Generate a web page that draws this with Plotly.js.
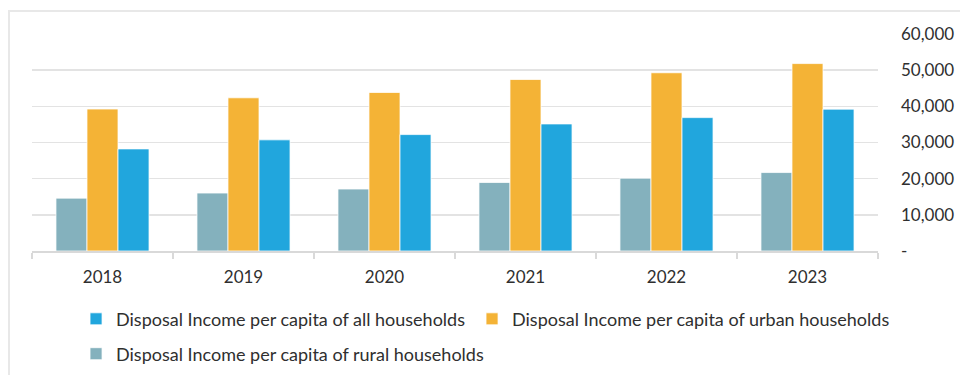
<!DOCTYPE html>
<html><head><meta charset="utf-8">
<script src="https://cdn.plot.ly/plotly-3.0.1.min.js"></script>
<style>
html,body{margin:0;padding:0;background:#fff;overflow:hidden}
#frame{position:absolute;left:8px;top:10px;width:1000px;height:420px;border:2px solid #e8e8e8;box-sizing:border-box}
#chart{position:absolute;left:0;top:0;width:960px;height:375px}
</style></head>
<body>
<div id="frame"></div>
<div id="chart"></div>
<script>
const years = ['2018','2019','2020','2021','2022','2023'];
const allHouseholds = [28228, 30733, 32189, 35128, 36883, 39218];
const urbanHouseholds = [39251, 42359, 43834, 47412, 49283, 51821];
const ruralHouseholds = [14617, 16021, 17131, 18931, 20133, 21691];
const yTickVals = [0, 10000, 20000, 30000, 40000, 50000, 60000];
const yTickText = ['-', '10,000', '20,000', '30,000', '40,000', '50,000', '60,000'];

const FONT = 'Lato, "Open Sans", sans-serif';
const TXT = '#2f2f2f';
const traces = [
  {type:'bar', x: years, y: ruralHouseholds, name:'Disposal Income per capita of rural households',
   marker:{color:'#84B1BD', line:{color:'#ffffff', width:0.75}}, legend:'legend3', hoverinfo:'y'},
  {type:'bar', x: years, y: urbanHouseholds, name:'Disposal Income per capita of urban households',
   marker:{color:'#F4B336', line:{color:'#ffffff', width:0.75}}, legend:'legend2', hoverinfo:'y'},
  {type:'bar', x: years, y: allHouseholds, name:'Disposal Income per capita of all households',
   marker:{color:'#21A6DD', line:{color:'#ffffff', width:0.75}}, legend:'legend', hoverinfo:'y'}
];

function leg(x, y){
  return {orientation:'h', xref:'container', yref:'container', x:x, xanchor:'left', y:y, yanchor:'middle',
          font:{family:FONT, size:18, color:TXT}, itemclick:false, itemdoubleclick:false,
          bgcolor:'rgba(0,0,0,0)', borderwidth:0};
}

const layout = {
  width:960, height:375,
  margin:{l:32, r:82, t:34, b:124, autoexpand:false},
  paper_bgcolor:'rgba(0,0,0,0)', plot_bgcolor:'rgba(0,0,0,0)',
  font:{family:FONT, size:17, color:TXT},
  barmode:'group', bargap:0.34, bargroupgap:0,
  xaxis:{type:'category', showgrid:false, showline:true, linecolor:'#d9d9d9', linewidth:1.5,
         ticks:'outside', tickson:'boundaries', ticklen:6, tickcolor:'#d9d9d9', tickwidth:1.5,
         ticklabelstandoff:10,
         tickfont:{family:FONT, size:17, color:TXT}, zeroline:false, fixedrange:true},
  yaxis:{side:'right', range:[0,60000], tickvals:yTickVals, ticktext:yTickText,
         showgrid:true, gridcolor:'#e3e3e3', gridwidth:1.5, zeroline:false, showline:false,
         ticks:'', ticklabelstandoff:22, tickfont:{family:FONT, size:17, color:TXT}, fixedrange:true},
  showlegend:true,
  legend: leg(0.0792, 0.149),
  legend2: leg(0.4917, 0.149),
  legend3: leg(0.0792, 0.056)
};
Plotly.newPlot('chart', traces, layout, {displayModeBar:false, staticPlot:true});
</script>
</body></html>
